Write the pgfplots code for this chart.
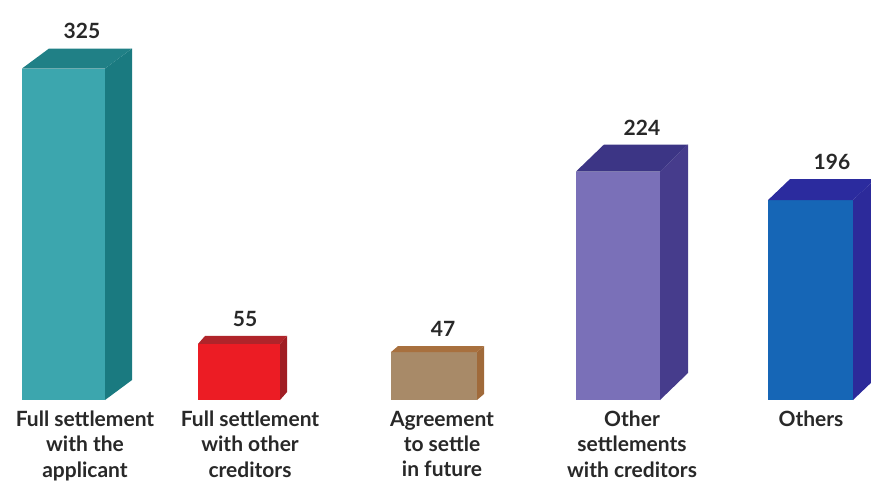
\documentclass[border=0pt]{standalone}
\usepackage{pgfplots}
\pgfplotsset{compat=1.18}
\usepackage{fontspec}
\setmainfont{Lato}
\definecolor{tealF}{RGB}{60,166,174}
\definecolor{tealS}{RGB}{26,122,128}
\definecolor{tealT}{RGB}{32,128,134}
\definecolor{redF}{RGB}{236,28,36}
\definecolor{redS}{RGB}{160,30,36}
\definecolor{redT}{RGB}{176,36,42}
\definecolor{tanF}{RGB}{168,138,104}
\definecolor{tanS}{RGB}{160,106,58}
\definecolor{tanT}{RGB}{168,112,62}
\definecolor{purF}{RGB}{122,112,184}
\definecolor{purS}{RGB}{70,60,140}
\definecolor{purT}{RGB}{60,53,133}
\definecolor{bluF}{RGB}{22,102,182}
\definecolor{bluS}{RGB}{44,42,154}
\definecolor{bluT}{RGB}{43,43,158}
\definecolor{txt}{RGB}{40,40,40}
\begin{document}
\begin{tikzpicture}
\begin{axis}[
  hide axis, scale only axis,
  width=435.5pt, height=240.5pt,
  xmin=0, xmax=871, ymin=-79.4, ymax=392.2,
]
\path (rel axis cs:0,0) (rel axis cs:1,1);
% Bar 1: 325
\addplot[fill=tealF, draw=none] coordinates {(22,0)(105,0)(105,325)(22,325)} -- cycle;
\addplot[fill=tealS, draw=none] coordinates {(105,0)(132,19.6)(132,344.6)(105,325)} -- cycle;
\addplot[fill=tealT, draw=none] coordinates {(22,325)(49,344.6)(132,344.6)(105,325)} -- cycle;
% Bar 2: 55
\addplot[fill=redF, draw=none] coordinates {(198,0)(280,0)(280,55)(198,55)} -- cycle;
\addplot[fill=redS, draw=none] coordinates {(280,0)(287,7.8)(287,62.8)(280,55)} -- cycle;
\addplot[fill=redT, draw=none] coordinates {(198,55)(205,62.8)(287,62.8)(280,55)} -- cycle;
% Bar 3: 47
\addplot[fill=tanF, draw=none] coordinates {(391,0)(477,0)(477,47)(391,47)} -- cycle;
\addplot[fill=tanS, draw=none] coordinates {(477,0)(484,5.9)(484,52.9)(477,47)} -- cycle;
\addplot[fill=tanT, draw=none] coordinates {(391,47)(398,52.9)(484,52.9)(477,47)} -- cycle;
% Bar 4: 224
\addplot[fill=purF, draw=none] coordinates {(576,0)(660,0)(660,224)(576,224)} -- cycle;
\addplot[fill=purS, draw=none] coordinates {(660,0)(688,26.5)(688,250.5)(660,224)} -- cycle;
\addplot[fill=purT, draw=none] coordinates {(576,224)(604,250.5)(688,250.5)(660,224)} -- cycle;
% Bar 5: 196
\addplot[fill=bluF, draw=none] coordinates {(768,0)(853,0)(853,196)(768,196)} -- cycle;
\addplot[fill=bluS, draw=none] coordinates {(853,0)(875,20.6)(875,216.6)(853,196)} -- cycle;
\addplot[fill=bluT, draw=none] coordinates {(768,196)(790,216.6)(875,216.6)(853,196)} -- cycle;
% value labels
\tikzset{vl/.style={anchor=south, font=\fontsize{10.5}{12}\selectfont\bfseries, text=txt, inner sep=0pt, yshift=4.5pt}}
\node[vl] at (axis cs:82,344.6) {325};
\node[vl] at (axis cs:245,62.8) {55};
\node[vl] at (axis cs:443,52.9) {47};
\node[vl] at (axis cs:642,250.5) {224};
\node[vl] at (axis cs:832,216.6) {196};
% category labels
\tikzset{cl/.style={anchor=north, align=center, font=\fontsize{10.5}{12.7}\selectfont\bfseries, text=txt, inner sep=0pt}}
\node[cl] at (axis cs:85,-10.3) {Full settlement\\with the\\applicant};
\node[cl] at (axis cs:250,-10.3) {Full settlement\\with other\\creditors};
\node[cl] at (axis cs:442,-10.3) {Agreement\\to settle\\in future};
\node[cl] at (axis cs:632,-10.3) {Other\\settlements\\with creditors};
\node[cl] at (axis cs:811,-10.3) {Others};
\end{axis}
\end{tikzpicture}
\end{document}
